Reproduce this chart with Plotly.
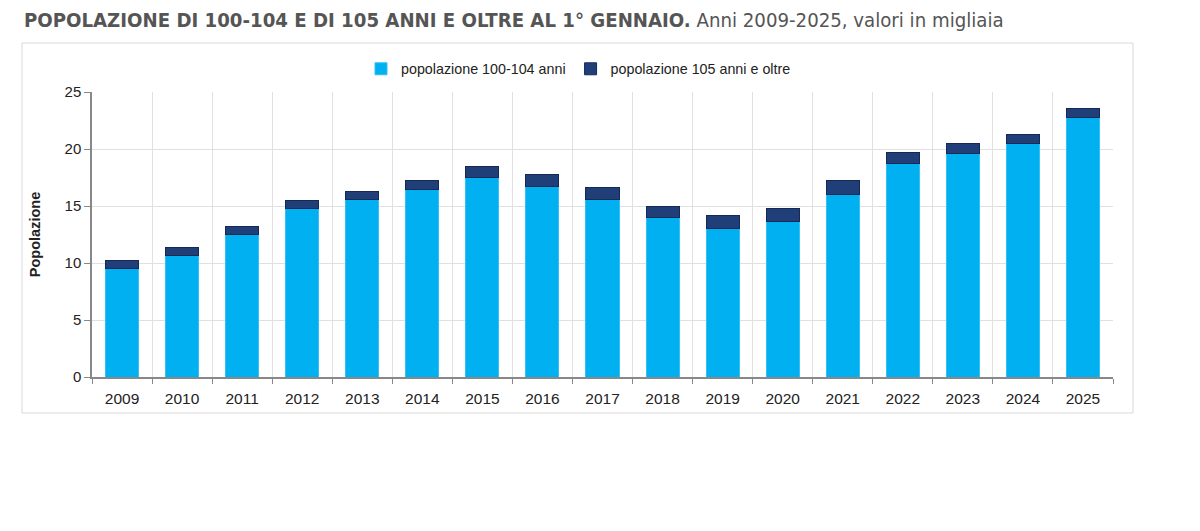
import plotly.graph_objects as go

anni = ["2009", "2010", "2011", "2012", "2013", "2014", "2015", "2016", "2017",
        "2018", "2019", "2020", "2021", "2022", "2023", "2024", "2025"]
pop_100_104 = [9.56, 10.70, 12.46, 14.74, 15.53, 16.46, 17.52, 16.70, 15.59,
               13.95, 13.07, 13.66, 16.05, 18.71, 19.62, 20.47, 22.72]
pop_105_oltre = [0.62, 0.67, 0.70, 0.70, 0.70, 0.82, 0.93, 1.05, 0.99,
                 1.05, 1.08, 1.16, 1.17, 1.00, 0.85, 0.76, 0.85]

OFF = 8  # page body margin
W, H = 1200 - 2 * OFF, 531 - 2 * OFF
# target screen coordinates of plot area
PX0, PX1, PY0, PY1 = 92, 1113, 92, 377
L, T = PX0 - OFF, PY0 - OFF
R = W - (PX1 - OFF)
B = H - (PY1 - OFF)
pw = PX1 - PX0
ph = PY1 - PY0


def px(x):
    return (x - PX0) / pw


def py(y):
    return (PY1 - y) / ph


fig = go.Figure()
fig.add_trace(go.Bar(
    x=anni, y=pop_100_104, name="popolazione 100-104 anni",
    marker=dict(color="#00B0F0", line=dict(color="#33C0F5", width=1)),
))
fig.add_trace(go.Bar(
    x=anni, y=pop_105_oltre, name="popolazione 105 anni e oltre",
    marker=dict(color="#203F78", line=dict(color="#142A55", width=1)),
))

fig.update_layout(
    width=W, height=H,
    margin=dict(l=L, r=R, t=T, b=B),
    barmode="stack", bargap=0.45,
    plot_bgcolor="white", paper_bgcolor="white",
    font=dict(family="Liberation Sans, Arial", color="#222"),
    showlegend=True,
    legend=dict(orientation="h", x=px(361), xanchor="left", y=py(69), yanchor="middle",
                font=dict(family="Liberation Sans, Arial", size=14.3, color="#222"),
                traceorder="normal", itemwidth=30),
    shapes=[dict(type="rect", xref="paper", yref="paper",
                 x0=px(22), x1=px(1133), y0=py(413), y1=py(43),
                 line=dict(color="#D9D9D9", width=1), fillcolor="rgba(0,0,0,0)",
                 layer="below")],
    annotations=[dict(
        xref="paper", yref="paper",
        x=px(22), y=py(20), xanchor="left", yanchor="middle",
        showarrow=False,
        text="<b>POPOLAZIONE DI 100-104 E DI 105 ANNI E OLTRE AL 1° GENNAIO.</b> Anni 2009-2025, valori in migliaia",
        font=dict(family="DejaVu Sans Condensed, DejaVu Sans", size=20.2, color="#555555"),
    )],
)
fig.update_xaxes(
    type="category", tickson="boundaries", ticks="outside", ticklen=5,
    tickcolor="#888", showline=True, linecolor="#888", linewidth=1.5,
    showgrid=True, gridcolor="#E0E0E0", gridwidth=1, ticklabelstandoff=7,
    tickfont=dict(family="Liberation Sans, Arial", size=15.5, color="#222"),
)
fig.update_yaxes(
    range=[0, 25], dtick=5, ticks="outside", ticklen=6, tickcolor="#888",
    showline=True, linecolor="#888", linewidth=1.5,
    showgrid=True, gridcolor="#E0E0E0", gridwidth=1, zeroline=False,
    tickfont=dict(family="Liberation Sans, Arial", size=15, color="#222"),
    title=dict(text="<b>Popolazione</b>", standoff=20,
               font=dict(family="Liberation Sans, Arial", size=14.5, color="#222")),
)

fig.write_html("out.html")
